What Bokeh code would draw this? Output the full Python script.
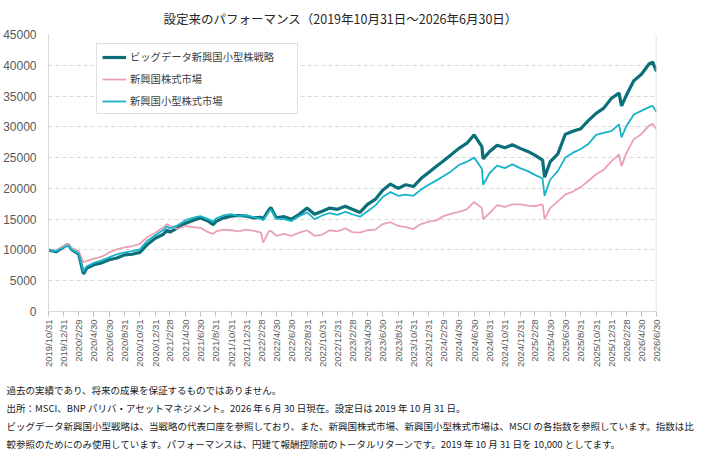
import numpy as np
import pandas as pd
from bokeh.plotting import figure
from bokeh.models import (ColumnDataSource, Legend, LegendItem, Title,
                          FixedTicker, Span)
from bokeh.embed import file_html
from bokeh.resources import INLINE

# data (index value, start = 10,000)

dates = [
    "2019-10-31", "2019-11-30", "2019-12-31", "2020-01-17", "2020-01-31",
    "2020-02-29", "2020-03-19", "2020-03-31", "2020-04-30", "2020-05-31",
    "2020-06-30", "2020-07-31", "2020-08-31", "2020-09-30", "2020-10-31",
    "2020-11-30", "2020-12-31", "2021-01-31", "2021-02-17", "2021-02-28",
    "2021-03-31", "2021-04-30", "2021-05-31", "2021-06-30", "2021-07-31",
    "2021-08-20", "2021-08-31", "2021-09-30", "2021-10-31", "2021-11-30",
    "2021-12-31", "2022-01-31", "2022-02-28", "2022-03-08", "2022-03-31",
    "2022-04-08", "2022-04-30", "2022-05-31", "2022-06-30", "2022-07-31",
    "2022-08-31", "2022-09-30", "2022-10-31", "2022-11-30", "2022-12-31",
    "2023-01-31", "2023-02-28", "2023-03-31", "2023-04-30", "2023-05-31",
    "2023-06-30", "2023-07-31", "2023-08-31", "2023-09-30", "2023-10-31",
    "2023-11-30", "2023-12-31", "2024-01-31", "2024-02-29", "2024-03-31",
    "2024-04-30", "2024-05-31", "2024-06-30", "2024-07-31", "2024-08-05",
    "2024-08-31", "2024-09-30", "2024-10-31", "2024-11-30", "2024-12-31",
    "2025-01-31", "2025-02-28", "2025-03-31", "2025-04-08", "2025-04-30",
    "2025-05-31", "2025-06-30", "2025-07-31", "2025-08-31", "2025-09-30",
    "2025-10-31", "2025-11-30", "2025-12-31", "2026-01-31", "2026-02-10",
    "2026-02-28", "2026-03-31", "2026-04-30", "2026-05-31", "2026-06-15",
    "2026-06-30",
]

strategy = [
    10000, 9700, 10500, 10900, 10100,
    9300, 6100, 7000, 7600, 7900,
    8400, 8700, 9200, 9300, 9600,
    10900, 11900, 12500, 13200, 12900,
    13600, 14300, 14800, 15200, 14700,
    14100, 14600, 15200, 15500, 15600,
    15500, 15200, 15300, 15000, 16500,
    16900, 15200, 15400, 15000, 15800,
    16800, 15800, 16300, 16800, 16600,
    17100, 16600, 16100, 17400, 18200,
    19700, 20700, 20000, 20600, 20300,
    21600, 22600, 23600, 24500, 25500,
    26500, 27300, 28700, 26800, 24800,
    26000, 27000, 26600, 27100, 26500,
    26000, 25400, 24600, 21800, 24300,
    25600, 28800, 29300, 29700, 31000,
    32200, 33000, 34600, 35500, 33400,
    35000, 37500, 38500, 40200, 40500,
    39000,
]

em_market = [
    10000, 9900, 10700, 11000, 10300,
    9800, 8000, 8200, 8600, 8900,
    9600, 10100, 10400, 10600, 11000,
    12100, 12800, 13600, 14200, 13900,
    13400, 13900, 13700, 13600, 12900,
    12600, 13000, 13300, 13200, 13000,
    13300, 13100, 12800, 11200, 13000,
    13100, 12300, 12600, 12300, 12800,
    13200, 12300, 12500, 13200, 13000,
    13500, 12900, 12800, 13200, 13300,
    14200, 14500, 13900, 13700, 13400,
    14200, 14600, 14800, 15500, 15900,
    16200, 16600, 17800, 16800, 15000,
    16000, 17300, 17000, 17400, 17400,
    17200, 17100, 17400, 15000, 16800,
    17900, 19000, 19500, 20200, 21200,
    22300, 23000, 24400, 25500, 23600,
    25600, 28000, 28800, 30200, 30500,
    29600,
]

em_small = [
    10000, 9800, 10400, 10700, 10100,
    9400, 6500, 7300, 7900, 8300,
    8800, 9300, 9600, 9800, 10100,
    11500, 12400, 13200, 13800, 13500,
    14000, 14800, 15200, 15500, 15000,
    14600, 15100, 15600, 15800, 15500,
    15600, 15300, 15100, 14800, 16200,
    16600, 15100, 15000, 14700, 15500,
    16100, 15000, 15600, 16000, 15700,
    16200, 15800, 15400, 16300, 17200,
    18600, 19400, 18800, 19000, 18800,
    19800, 20600, 21300, 22000, 22800,
    23800, 24300, 25000, 23200, 20600,
    22500, 23700, 23300, 23900, 23300,
    22800, 22200, 21600, 18800, 21400,
    22800, 25000, 25800, 26400, 27200,
    28700, 29000, 29300, 30400, 28300,
    30000, 32000, 32600, 33200, 33400,
    32400,
]

series_names = ["ビッグデータ新興国小型株戦略", "新興国株式市場", "新興国小型株式市場"]
series_colors = ["#0b6f79", "#e9a1b4", "#17b3c9"]

tick_dates = pd.date_range("2019-10-31", "2026-06-30", freq="2ME")
y_ticks = list(range(0, 45001, 5000))

title_text = "設定来のパフォーマンス（2019年10月31日～2026年6月30日）"
notes = [
    "過去の実績であり、将来の成果を保証するものではありません。",
    "出所：MSCI、BNP パリバ・アセットマネジメント。2026 年 6 月 30 日現在。設定日は 2019 年 10 月 31 日。",
    "ビッグデータ新興国小型戦略は、当戦略の代表口座を参照しており、また、新興国株式市場、新興国小型株式市場は、MSCI の各指数を参照しています。指数は比",
    "較参照のためにのみ使用しています。パフォーマンスは、円建て報酬控除前のトータルリターンです。2019 年 10 月 31 日を 10,000 としてます。",
]

JP = "Noto Sans CJK JP"


def to_ms(d):
    return pd.Timestamp(d).timestamp() * 1000.0


def main():
    x = pd.to_datetime(dates)
    source = ColumnDataSource({'x': x, 'strategy': strategy,
                               'em': em_market, 'small': em_small})

    p = figure(frame_width=608, frame_height=277, x_axis_type="datetime",
               x_range=(x[0], x[-1]), y_range=(0, 45000),
               output_backend="svg", toolbar_location=None,
               min_border_left=0, min_border_right=48,
               min_border_top=0, min_border_bottom=0)
    p.outline_line_color = None
    p.background_fill_color = "white"

    r1 = p.line('x', 'strategy', source=source, color=series_colors[0],
                line_width=3.2)
    r2 = p.line('x', 'em', source=source, color=series_colors[1],
                line_width=1.8)
    r3 = p.line('x', 'small', source=source, color=series_colors[2],
                line_width=1.8)

    # axes
    p.xgrid.grid_line_color = None
    p.ygrid.grid_line_color = "#d9d9d9"
    p.ygrid.grid_line_dash = "4 3"
    p.ygrid.ticker = FixedTicker(ticks=y_ticks)

    p.yaxis.ticker = FixedTicker(ticks=y_ticks)
    p.yaxis.axis_line_color = "#d9d9d9"
    p.yaxis.major_tick_line_color = None
    p.yaxis.minor_tick_line_color = None
    p.yaxis.major_label_standoff = 6
    p.yaxis.major_label_text_font = "Liberation Sans"
    p.yaxis.major_label_text_font_size = "12px"
    p.yaxis.major_label_text_color = "#595959"

    tick_ms = [to_ms(d) for d in tick_dates]
    p.xaxis.ticker = FixedTicker(ticks=tick_ms)
    p.xaxis.major_label_overrides = {
        t: f"{d.year}/{d.month}/{d.day}" for t, d in zip(tick_ms, tick_dates)}
    p.xaxis.major_label_orientation = np.pi / 2
    p.xaxis.axis_line_color = "#d9d9d9"
    p.xaxis.major_tick_line_color = "#bfbfbf"
    p.xaxis.major_tick_out = 5
    p.xaxis.major_tick_in = 0
    p.xaxis.minor_tick_line_color = None
    p.xaxis.major_label_standoff = 3
    p.xaxis.major_label_text_font = "Liberation Sans"
    p.xaxis.major_label_text_font_size = "9.5px"
    p.xaxis.major_label_text_color = "#595959"

    # right border of the plot area
    p.add_layout(Span(location=to_ms(dates[-1]), dimension="height",
                      line_color="#d9d9d9", line_width=1.5))

    # legend
    legend = Legend(items=[LegendItem(label=n, renderers=[r])
                           for n, r in zip(series_names, [r1, r2, r3])],
                    location=(48, 197), orientation="vertical",
                    padding=5, spacing=7, margin=0,
                    label_height=14, glyph_height=14, glyph_width=24,
                    label_standoff=4, label_width=162,
                    label_text_font=JP, label_text_font_size="10.3px",
                    label_text_color="#404040",
                    border_line_color="#bfbfbf", border_line_width=1.5,
                    background_fill_alpha=1.0)
    p.add_layout(legend)

    # title above, notes below the chart
    p.title = Title(text=title_text, align="left", offset=115,
                    text_font=JP, text_font_size="12.5px",
                    text_font_style="normal", text_color="#262626",
                    standoff=13)

    p.add_layout(Title(text="\n".join(notes), align="left", offset=-42,
                       text_font=JP, text_font_size="9.5px",
                       text_font_style="normal", text_color="#1a1a1a",
                       text_line_height=1.29, standoff=22), "below")

    open("out.html", "w").write(file_html(p, INLINE))


if __name__ == "__main__":
    main()
